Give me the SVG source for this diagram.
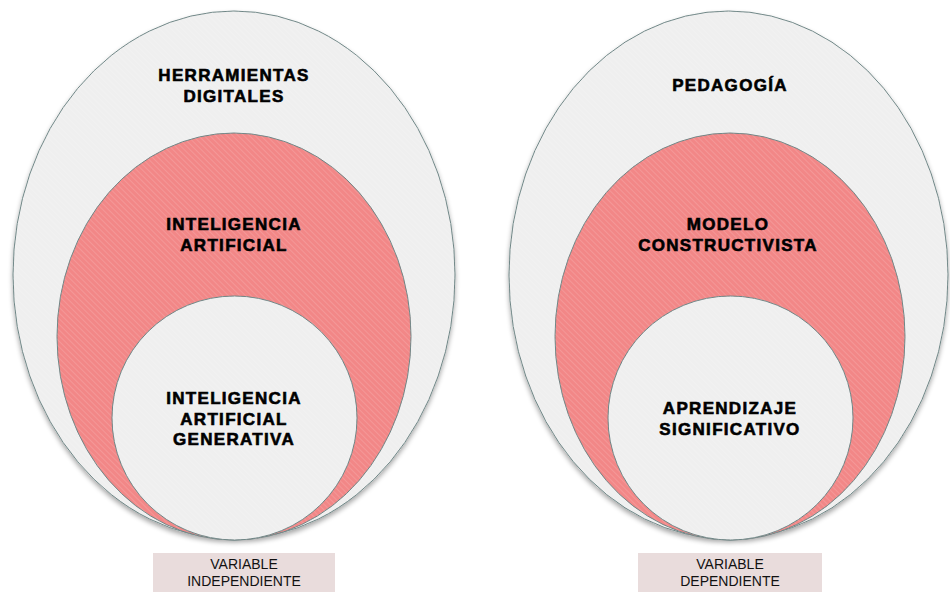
<svg xmlns="http://www.w3.org/2000/svg" width="950" height="592" viewBox="0 0 950 592">
<defs>
<pattern id="hatch" width="4" height="4" patternUnits="userSpaceOnUse" patternTransform="rotate(-45)">
<rect width="4" height="4" fill="none"/>
<line x1="0" y1="0" x2="0" y2="4" stroke="#ffffff" stroke-opacity="0.18" stroke-width="1.5"/>
</pattern>
<filter id="sh" x="-10%" y="-10%" width="120%" height="125%">
<feGaussianBlur in="SourceAlpha" stdDeviation="2.5"/>
<feOffset dy="3"/>
<feComponentTransfer><feFuncA type="linear" slope="0.35"/></feComponentTransfer>
<feMerge><feMergeNode/><feMergeNode in="SourceGraphic"/></feMerge>
</filter>
</defs>
<style>
.gray{fill:#efefef;stroke:#6f8686;stroke-width:1}
.pink{fill:#f28787;stroke:#6f8686;stroke-width:1}
.hatch{fill:url(#hatch);stroke:none}
.lbl{font-family:"Liberation Sans",Arial,sans-serif;font-weight:bold;font-size:17px;letter-spacing:1.3px;fill:#000;stroke:#000;stroke-width:0.6px;text-anchor:middle}
.var{font-family:"Liberation Sans",Arial,sans-serif;font-size:14px;fill:#111;text-anchor:middle}
.box{fill:#e9dcdc}
</style>
<rect width="950" height="592" fill="#ffffff"/>

<g id="herramientas-digitales">
<ellipse class="gray" cx="234" cy="275" rx="221" ry="264" filter="url(#sh)"/>
<ellipse class="hatch" cx="234" cy="275" rx="221" ry="264"/>
<text class="lbl" x="234" y="81">HERRAMIENTAS</text>
<text class="lbl" x="234" y="101.5">DIGITALES</text>
</g>
<g id="inteligencia-artificial">
<ellipse class="pink" cx="234" cy="336.5" rx="177" ry="203.5"/>
<ellipse class="hatch" cx="234" cy="336.5" rx="177" ry="203.5"/>
<text class="lbl" x="234" y="230">INTELIGENCIA</text>
<text class="lbl" x="234" y="250.5">ARTIFICIAL</text>
</g>
<g id="ia-generativa">
<ellipse class="gray" cx="234.5" cy="418" rx="122.5" ry="122"/>
<ellipse class="hatch" cx="234.5" cy="418" rx="122.5" ry="122"/>
<text class="lbl" x="234" y="404">INTELIGENCIA</text>
<text class="lbl" x="234" y="424.5">ARTIFICIAL</text>
<text class="lbl" x="234" y="445">GENERATIVA</text>
</g>
<g id="variable-independiente">
<rect class="box" x="153" y="553" width="182" height="39"/>
<text class="var" x="244" y="569">VARIABLE</text>
<text class="var" x="244" y="586">INDEPENDIENTE</text>
</g>

<g id="pedagogia">
<ellipse class="gray" cx="728.5" cy="275" rx="219.5" ry="264" filter="url(#sh)"/>
<ellipse class="hatch" cx="728.5" cy="275" rx="219.5" ry="264"/>
<text class="lbl" x="730" y="90.5">PEDAGOGÍA</text>
</g>
<g id="modelo-constructivista">
<ellipse class="pink" cx="730" cy="336.5" rx="175" ry="203.5"/>
<ellipse class="hatch" cx="730" cy="336.5" rx="175" ry="203.5"/>
<text class="lbl" x="728" y="230">MODELO</text>
<text class="lbl" x="728" y="250.5">CONSTRUCTIVISTA</text>
</g>
<g id="aprendizaje-significativo">
<ellipse class="gray" cx="730.5" cy="418" rx="122.5" ry="122"/>
<ellipse class="hatch" cx="730.5" cy="418" rx="122.5" ry="122"/>
<text class="lbl" x="730" y="414">APRENDIZAJE</text>
<text class="lbl" x="730" y="434.5">SIGNIFICATIVO</text>
</g>
<g id="variable-dependiente">
<rect class="box" x="638" y="553" width="184" height="39"/>
<text class="var" x="730" y="569">VARIABLE</text>
<text class="var" x="730" y="586">DEPENDIENTE</text>
</g>

<g id="connectors"></g>
</svg>
